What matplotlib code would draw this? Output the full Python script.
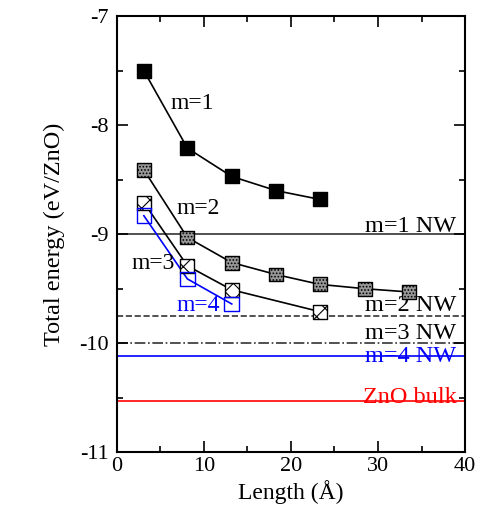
import matplotlib
matplotlib.use("Agg")
import matplotlib.pyplot as plt
from matplotlib.ticker import MultipleLocator

plt.rcParams['font.family'] = ['Liberation Serif', 'DejaVu Serif']
plt.rcParams['axes.unicode_minus'] = False
plt.rcParams['hatch.linewidth'] = 0.8

# data
len_m1 = [3.1, 8.1, 13.2, 18.3, 23.3]
e_m1 = [-7.50, -8.21, -8.47, -8.60, -8.68]
len_m2 = [3.1, 8.1, 13.2, 18.3, 23.3, 28.5, 33.6]
e_m2 = [-8.41, -9.03, -9.26, -9.37, -9.46, -9.50, -9.53]
len_m3 = [3.1, 8.1, 13.2, 23.3]
e_m3 = [-8.71, -9.29, -9.51, -9.71]
len_m4 = [3.1, 8.1, 13.2]
e_m4 = [-8.83, -9.41, -9.64]

nw_names = ['m=1 NW', 'm=2 NW', 'm=3 NW', 'm=4 NW', 'ZnO bulk']
nw_energy = [-9.0, -9.75, -10.0, -10.12, -10.53]
nw_colors = ['#333333', '#333333', '#333333', 'blue', 'red']
nw_text_colors = ['black', 'black', 'black', 'blue', 'red']
nw_styles = ['-', '--', '-.', '-', '-']
nw_offsets = [0.07, 0.10, 0.09, 0.0, 0.03]

fig = plt.figure(figsize=(4.89, 5.24), dpi=100)
ax = fig.add_axes([0.239, 0.137, 0.712, 0.832])

for e, c, tc, ls, name, off in zip(nw_energy, nw_colors, nw_text_colors, nw_styles,
                                   nw_names, nw_offsets):
    ax.axhline(e, color=c, ls=ls, lw=1.2, zorder=1)
    ax.text(39.0, e + off, name, color=tc, fontsize=17.5, ha='right', va='center', zorder=2)

ax.plot(len_m1, e_m1, color='black', lw=1.2, zorder=3)
ax.scatter(len_m1, e_m1, s=115, marker='s', color='black', zorder=4)

ax.plot(len_m2, e_m2, color='black', lw=1.2, zorder=3)
ax.scatter(len_m2, e_m2, s=100, marker='s', facecolor='#999999', edgecolor='black',
           hatch='.....', lw=1, zorder=4)

ax.plot(len_m3, e_m3, color='black', lw=1.2, zorder=3)
ax.scatter(len_m3, e_m3, s=100, marker='s', facecolor='white', edgecolor='black',
           hatch='xx', lw=1, zorder=4)

ax.plot(len_m4, e_m4, color='blue', lw=1.2, zorder=3)
ax.scatter(len_m4, e_m4, s=110, marker='s', facecolor='none', edgecolor='blue',
           lw=1, zorder=4)

ax.text(6.2, -7.80, 'm=1', fontsize=17, va='center')
ax.text(6.9, -8.76, 'm=2', fontsize=17, va='center')
ax.text(1.7, -9.27, 'm=3', fontsize=17, va='center')
ax.text(6.8, -9.65, 'm=4', fontsize=17, va='center', color='blue')

ax.set_xlim(0, 40)
ax.set_ylim(-11, -7)
ax.xaxis.set_major_locator(MultipleLocator(10))
ax.xaxis.set_minor_locator(MultipleLocator(5))
ax.yaxis.set_major_locator(MultipleLocator(1))
ax.yaxis.set_minor_locator(MultipleLocator(0.5))
ax.tick_params(which='both', direction='in', top=True, right=True, labelsize=16)
ax.tick_params(which='major', length=8, width=1.2)
ax.tick_params(which='minor', length=4, width=1.2)
ax.tick_params(axis='y', pad=6)
for sp in ax.spines.values():
    sp.set_linewidth(1.5)

ax.set_xlabel('Length (Å)', fontsize=17, labelpad=3)
ax.set_ylabel('Total energy (eV/ZnO)', fontsize=17.5, labelpad=10)

plt.savefig('out.png', dpi=100)
